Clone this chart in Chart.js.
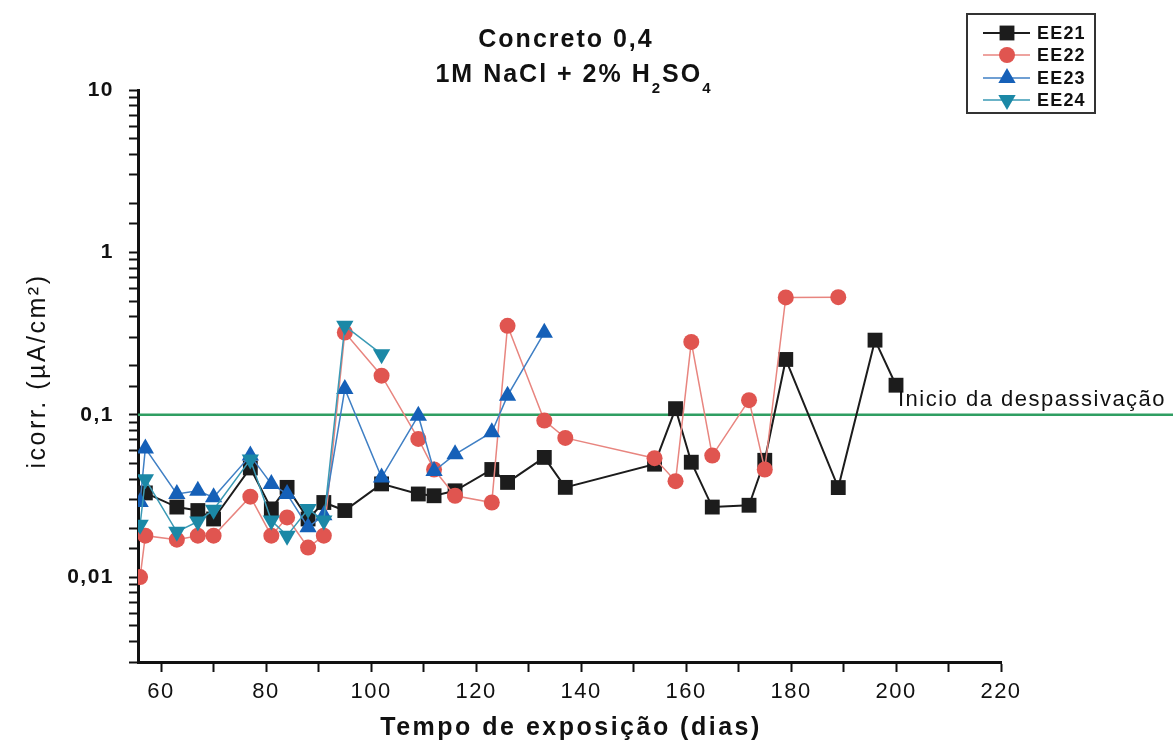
<!DOCTYPE html>
<html>
<head>
<meta charset="utf-8">
<title>Concreto 0,4 - 1M NaCl + 2% H2SO4</title>
<script src="https://cdn.jsdelivr.net/npm/chart.js@4.4.1/dist/chart.umd.min.js"></script>
<style>
  html, body { margin: 0; padding: 0; background: #fff; }
  #wrap { width: 1173px; height: 747px; }
</style>
</head>
<body>
<div id="wrap"><canvas id="corrChart" width="1173" height="747"></canvas></div>
<script>
// tempo de exposição (dias) / icorr (µA/cm²)
const seriesNames = ["EE21", "EE22", "EE23", "EE24"];

const ee21Days = [57, 63, 67, 70, 77, 81, 84, 88, 91, 95, 102, 109, 112, 116, 123, 126, 133, 137, 154, 158, 161, 165, 172, 175, 179, 189, 196, 200];
const ee21Icorr = [0.033, 0.027, 0.0257, 0.0228, 0.047, 0.0263, 0.0357, 0.0228, 0.0288, 0.0257, 0.0375, 0.0325, 0.0317, 0.034, 0.046, 0.0383, 0.0546, 0.0357, 0.0496, 0.109, 0.051, 0.027, 0.0277, 0.0524, 0.219, 0.0356, 0.288, 0.152];

const ee22Days = [56, 57, 63, 67, 70, 77, 81, 84, 88, 91, 95, 102, 109, 112, 116, 123, 126, 133, 137, 154, 158, 161, 165, 172, 175, 179, 189];
const ee22Icorr = [0.010, 0.018, 0.017, 0.018, 0.018, 0.0313, 0.018, 0.0233, 0.0152, 0.018, 0.321, 0.174, 0.071, 0.046, 0.0317, 0.0288, 0.353, 0.092, 0.072, 0.054, 0.039, 0.281, 0.056, 0.123, 0.046, 0.528, 0.53];

const ee23Days = [56, 57, 63, 67, 70, 77, 81, 84, 88, 91, 95, 102, 109, 112, 116, 123, 126, 133];
const ee23Icorr = [0.029, 0.062, 0.0325, 0.034, 0.031, 0.056, 0.0375, 0.0325, 0.0203, 0.024, 0.144, 0.041, 0.0986, 0.045, 0.057, 0.078, 0.131, 0.32];

const ee24Days = [56, 57, 63, 67, 70, 77, 81, 84, 88, 91, 95, 102];
const ee24Icorr = [0.021, 0.040, 0.019, 0.022, 0.026, 0.053, 0.0223, 0.018, 0.0263, 0.0223, 0.353, 0.236];

const yTickValues = [0.01, 0.1, 1, 10];
const yTickLabels = ["0,01", "0,1", "1", "10"];
const thresholdValue = 0.1; // inicio da despassivação

const FONT = "'Liberation Sans', Arial, sans-serif";

function pts(days, vals) {
    return days.map((d, i) => ({ x: d, y: vals[i] }));
}

const datasets = [
    { label: seriesNames[0], data: pts(ee21Days, ee21Icorr), order: 4,
      borderColor: "#1c1c1c", borderWidth: 2, backgroundColor: "#1c1c1c",
      pointStyle: "rect", pointRadius: 10.5, pointBorderWidth: 0, pointBackgroundColor: "#1c1c1c" },
    { label: seriesNames[1], data: pts(ee22Days, ee22Icorr), order: 3,
      borderColor: "#e8857f", borderWidth: 1.5, backgroundColor: "#e05550",
      pointStyle: "circle", pointRadius: 8, pointBorderWidth: 0, pointBackgroundColor: "#e05550" },
    { label: seriesNames[2], data: pts(ee23Days, ee23Icorr), order: 2,
      borderColor: "#3f7fc4", borderWidth: 1.5, backgroundColor: "#1560b8",
      pointStyle: "triangle", pointRadius: 10, pointBorderWidth: 0, pointBackgroundColor: "#1560b8" },
    { label: seriesNames[3], data: pts(ee24Days, ee24Icorr), order: 1,
      borderColor: "#3a9ab5", borderWidth: 1.5, backgroundColor: "#1b88a6",
      pointStyle: "triangle", pointRotation: 180, pointRadius: 10, pointBorderWidth: 0, pointBackgroundColor: "#1b88a6" }
];

// titulo, legenda, linha verde e titulos dos eixos
const decorPlugin = {
    id: "decor",
    beforeDraw(chart) {
        chart.ctx.letterSpacing = "1.5px";
    },
    beforeDatasetsDraw(chart) {
        const ctx = chart.ctx;
        const yT = chart.scales.y.getPixelForValue(thresholdValue);
        ctx.save();
        ctx.strokeStyle = "#2f9e62";
        ctx.lineWidth = 2.5;
        ctx.beginPath();
        ctx.moveTo(chart.chartArea.left, yT);
        ctx.lineTo(chart.width, yT);
        ctx.stroke();
        ctx.restore();
    },
    afterDraw(chart) {
        const ctx = chart.ctx;
        const yT = chart.scales.y.getPixelForValue(thresholdValue);
        ctx.save();
        ctx.fillStyle = "#111";

        // annotation
        ctx.letterSpacing = "1.5px";
        ctx.font = "22px " + FONT;
        ctx.textAlign = "left";
        ctx.textBaseline = "alphabetic";
        ctx.fillText("Inicio da despassivação", 898, yT - 9);

        // title
        ctx.letterSpacing = "2px";
        ctx.font = "bold 25px " + FONT;
        ctx.textAlign = "center";
        ctx.fillText("Concreto 0,4", 566, 47);

        const parts = [["1M NaCl + 2% H", false], ["2", true], ["SO", false], ["4", true]];
        let total = 0;
        parts.forEach(p => {
            ctx.font = (p[1] ? "bold 15px " : "bold 25px ") + FONT;
            total += ctx.measureText(p[0]).width;
        });
        let x = 574 - total / 2;
        ctx.textAlign = "left";
        parts.forEach(p => {
            ctx.font = (p[1] ? "bold 15px " : "bold 25px ") + FONT;
            ctx.fillText(p[0], x, p[1] ? 93 : 82);
            x += ctx.measureText(p[0]).width;
        });

        // axis titles
        ctx.textAlign = "center";
        ctx.letterSpacing = "2.5px";
        ctx.font = "bold 25px " + FONT;
        ctx.fillText("Tempo de exposição (dias)", 571, 735);

        ctx.save();
        ctx.translate(38, 371);
        ctx.rotate(-Math.PI / 2);
        ctx.letterSpacing = "2.5px";
        ctx.font = "25px " + FONT;
        ctx.textBaseline = "middle";
        ctx.fillText("icorr. (µA/cm²)", 0, 0);
        ctx.restore();

        // legend
        ctx.strokeStyle = "#333";
        ctx.lineWidth = 2;
        ctx.strokeRect(967, 14, 128, 99);
        const rowY = [33, 55, 78, 100];
        chart.data.datasets.forEach((ds, i) => {
            const y = rowY[i];
            ctx.strokeStyle = ds.borderColor;
            ctx.lineWidth = ds.borderWidth;
            ctx.beginPath();
            ctx.moveTo(983, y);
            ctx.lineTo(1030, y);
            ctx.stroke();
            ctx.fillStyle = ds.pointBackgroundColor;
            Chart.helpers.drawPoint(ctx, {
                pointStyle: ds.pointStyle, radius: ds.pointRadius,
                rotation: ds.pointRotation || 0, borderWidth: 0
            }, 1007, y);
            ctx.fillStyle = "#111";
            ctx.letterSpacing = "1.2px";
            ctx.font = "bold 18px " + FONT;
            ctx.textAlign = "left";
            ctx.textBaseline = "middle";
            ctx.fillText(ds.label, 1037, y + 1);
        });
        ctx.restore();
    }
};

new Chart("corrChart", {
    type: "line",
    data: { datasets: datasets },
    options: {
        responsive: false,
        animation: false,
        devicePixelRatio: 1,
        layout: { padding: { top: 90, right: 172, bottom: 0, left: 0 } },
        plugins: { legend: { display: false }, tooltip: { enabled: false } },
        scales: {
            x: {
                type: "linear", min: 55.6, max: 220,
                border: { display: true, color: "#111", width: 3 },
                grid: { display: true, drawOnChartArea: false, drawTicks: true, tickLength: 10, tickColor: "#111", tickWidth: 2 },
                ticks: {
                    stepSize: 10, includeBounds: false, autoSkip: false, maxRotation: 0,
                    padding: 7, color: "#111", font: { family: FONT, size: 22 },
                    callback: v => (v % 20 === 0 ? String(v) : "")
                },
                afterFit: s => { s.height = 85; }
            },
            y: {
                type: "logarithmic", min: 0.003, max: 10,
                border: { display: true, color: "#111", width: 3 },
                grid: { display: true, drawOnChartArea: false, drawTicks: true, tickLength: 9, tickColor: "#111", tickWidth: 2 },
                ticks: {
                    autoSkip: false, padding: 15, color: "#111",
                    font: { family: FONT, size: 21, weight: "bold" },
                    callback: v => {
                        const i = yTickValues.findIndex(t => Math.abs(t - v) / t < 1e-6);
                        return i >= 0 ? yTickLabels[i] : "";
                    }
                },
                afterFit: s => { s.width = 138; }
            }
        }
    },
    plugins: [decorPlugin]
});
</script>
</body>
</html>
